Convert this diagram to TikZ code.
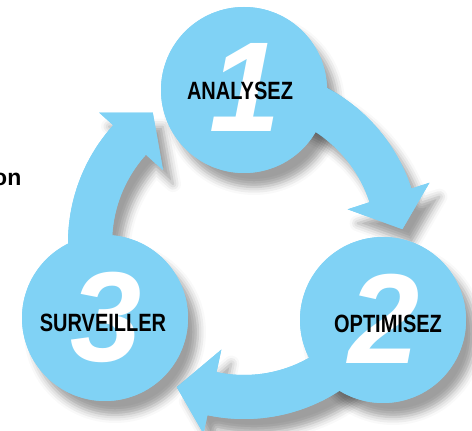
\documentclass[tikz,border=0pt]{standalone}
\usepackage{fontspec}
\setmainfont{Liberation Sans}
\newfontfamily\narrowfont[FakeStretch=0.8]{Liberation Sans}
\usetikzlibrary{calc,shadows.blur}
\definecolor{cycleblue}{RGB}{128,210,245}

\begin{document}
\begin{tikzpicture}[x=1pt,y=1pt,
    phase/.style={circle, fill=cycleblue, minimum size=166pt, inner sep=0pt},
    drop/.style={blur shadow={shadow xshift=10pt, shadow yshift=-14pt, shadow blur radius=8pt, shadow opacity=38}},
    phasenum/.style={text=white, font=\fontsize{128}{128}\selectfont\bfseries\itshape, inner sep=0pt},
    phasename/.style={font=\narrowfont\fontsize{25}{25}\selectfont\bfseries, inner sep=0pt}]
        \useasboundingbox (0,0) rectangle (472,431);
        \coordinate (C) at (244,188);
        % shadows first, then everything again on top
        \foreach \sh in {drop,}{
            \foreach \s/\b/\t in {90/18/5, -30/-102/-115, 210/138/125}
                \fill[cycleblue, \sh] ($(C)+(\s:176)$) arc[start angle=\s, end angle=\b, radius=176]
                    -- ($(C)+(\b:195)$) -- ($(C)+(\t:159)$) -- ($(C)+(\b:109)$) -- ($(C)+(\b:132)$)
                    arc[start angle=\b, end angle=\s, radius=132] -- cycle;
            \node[phase, \sh] (analyse) at (244,341) {};
            \node[phase, \sh] (optimise) at (383,111) {};
            \node[phase, \sh] (surveille) at (105,113) {};
        }
        \node[phasenum] (one) at (245,344) {1};
        \node[phasenum] (two) at (384,112) {2};
        \node[phasenum] (three) at (106,114) {3};
        \node[phasename] (analysez) at (240,340) {ANALYSEZ};
        \node[phasename] (optimisez) at (388,107) {OPTIMISEZ};
        \node[phasename] (surveiller) at (103,108) {SURVEILLER};
        \node[anchor=base east, font=\fontsize{23}{23}\selectfont\bfseries, inner sep=0pt] (cut) at (21.5,245) {on};
    \end{tikzpicture}
\end{document}
